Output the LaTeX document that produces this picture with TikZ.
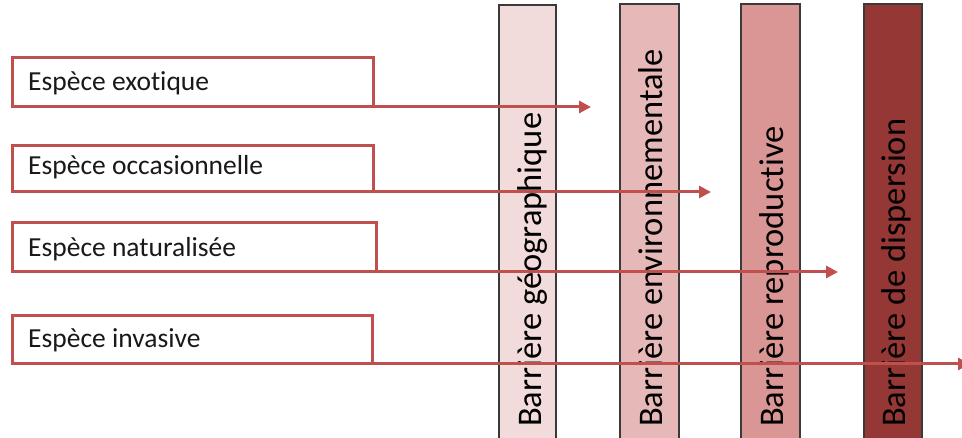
\documentclass[tikz,border=0pt]{standalone}
\usepackage{fontspec}
\setmainfont[Ligatures=NoCommon]{Carlito}
\usetikzlibrary{arrows.meta}
\definecolor{linered}{HTML}{C0504D}
\definecolor{barA}{HTML}{F2DCDB}
\definecolor{barB}{HTML}{E6B9B8}
\definecolor{barC}{HTML}{D99694}
\definecolor{barD}{HTML}{953735}
\definecolor{barline}{HTML}{3A3A3A}
\tikzset{
  spbox/.style={draw=linered, line width=3pt, fill=white, inner sep=0pt, outer sep=0pt, anchor=north west},
  splabel/.style={inner sep=0pt, anchor=base west, font=\fontsize{27.5}{31}\selectfont, text=black!90},
  barrier/.style={draw=barline, line width=1.2pt, inner sep=0pt, outer sep=0pt, anchor=north west, minimum width=57pt, minimum height=445pt},
  barlabel/.style={inner sep=0pt, anchor=base west, rotate=90, font=\fontsize{34.5}{40}\selectfont, text=black},
  flow/.style={draw=linered, line width=3pt, -{Triangle[length=12pt,width=12pt]}},
}
\begin{document}
\begin{tikzpicture}[x=1pt,y=-1pt]
\useasboundingbox (0,0) rectangle (962,438);

% barriers
\node[barrier, fill=barA] (b1) at (499,5) {};
\node[barrier, fill=barB, minimum width=59pt] (b2) at (620,4) {};
\node[barrier, fill=barC, minimum width=59pt] (b3) at (741,4) {};
\node[barrier, fill=barD, minimum width=58pt] (b4) at (864,4) {};
\node[barlabel] (t1) at (541,427) {Barrière géographique};
\node[barlabel] (t2) at (662,427) {Barrière environnementale};
\node[barlabel] (t3) at (783,427) {Barrière reproductive};
\node[barlabel] (t4) at (905,427) {Barrière de dispersion};

% species boxes
\node[spbox, minimum width=361pt, minimum height=49pt] (s1) at (12,58) {};
\node[spbox, minimum width=361pt, minimum height=46pt] (s2) at (12,146) {};
\node[spbox, minimum width=364pt, minimum height=49pt] (s3) at (12,223) {};
\node[spbox, minimum width=360pt, minimum height=48pt] (s4) at (12,316) {};
\node[splabel] (l1) at (28,91) {Espèce exotique};
\node[splabel] (l2) at (28,175) {Espèce occasionnelle};
\node[splabel] (l3) at (28,257) {Espèce naturalisée};
\node[splabel] (l4) at (28,348) {Espèce invasive};

% arrows through the barriers
\coordinate (e1) at (591,0);
\coordinate (e2) at (711,0);
\coordinate (e3) at (838,0);
\coordinate (e4) at (970,0);
\draw[flow] (s1.south east) -- (s1.south east -| e1);
\draw[flow] (s2.south east) -- (s2.south east -| e2);
\draw[flow] (s3.south east) -- (s3.south east -| e3);
\draw[flow] (s4.south east) -- (s4.south east -| e4);
\end{tikzpicture}
\end{document}
